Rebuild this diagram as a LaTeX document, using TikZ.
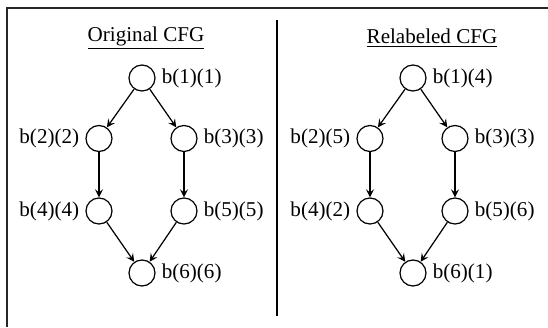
\documentclass[tikz,border=0pt]{standalone}
\usepackage{fontspec}
\setmainfont{Liberation Serif}
\usetikzlibrary{arrows.meta}
\begin{document}
\begin{tikzpicture}[
    node/.style={circle, draw, line width=0.7pt, minimum size=0.52cm, inner sep=0pt},
    lbl/.style={font=\fontsize{12}{14}\selectfont},
    edge/.style={-{Stealth[length=4.6pt,width=4.6pt,inset=1.8pt]}, line width=0.7pt},
  ]

\useasboundingbox (0,0) rectangle (10.96,6.54);

\def\shift{5.42}

  % Frame and divider
  \draw[line width=0.75pt, black!85] (0.14,0) coordinate (fl) -- (0.14,6.38) coordinate (ft) -- (10.96,6.38) coordinate (fr);
  \coordinate (dtop) at (5.54,6.14);
  \coordinate (dbot) at (5.54,0.22);
  \draw[line width=0.8pt] (dtop) -- (dbot);

  % Titles
  \node[lbl] (t1) at (2.92,5.78) {\underline{Original CFG}};
  \node[lbl] (t2) at (2.92+\shift+0.3,5.78) {\underline{Relabeled CFG}};

  % Original CFG
  \node[node, label={[lbl]right:b(1)(1)}] (a1) at (2.84,4.98) {};
  \node[node, label={[lbl]left:b(2)(2)}]  (a2) at (1.98,3.77) {};
  \node[node, label={[lbl]right:b(3)(3)}] (a3) at (3.68,3.77) {};
  \node[node, label={[lbl]left:b(4)(4)}]  (a4) at (1.98,2.32) {};
  \node[node, label={[lbl]right:b(5)(5)}] (a5) at (3.68,2.32) {};
  \node[node, label={[lbl]right:b(6)(6)}] (a6) at (2.84,1.08) {};

  % Relabeled CFG
  \node[node, label={[lbl]right:b(1)(4)}] (r1) at (2.84+\shift,4.98) {};
  \node[node, label={[lbl]left:b(2)(5)}]  (r2) at (1.98+\shift,3.77) {};
  \node[node, label={[lbl]right:b(3)(3)}] (r3) at (3.68+\shift,3.77) {};
  \node[node, label={[lbl]left:b(4)(2)}]  (r4) at (1.98+\shift,2.32) {};
  \node[node, label={[lbl]right:b(5)(6)}] (r5) at (3.68+\shift,2.32) {};
  \node[node, label={[lbl]right:b(6)(1)}] (r6) at (2.84+\shift,1.08) {};

  % Connections
  \foreach \g in {a,r}{
      \draw[edge] (\g1) -- (\g2);
      \draw[edge] (\g1) -- (\g3);
      \draw[edge] (\g2) -- (\g4);
      \draw[edge] (\g3) -- (\g5);
      \draw[edge] (\g4) -- (\g6);
      \draw[edge] (\g5) -- (\g6);
    }

\end{tikzpicture}
\end{document}
